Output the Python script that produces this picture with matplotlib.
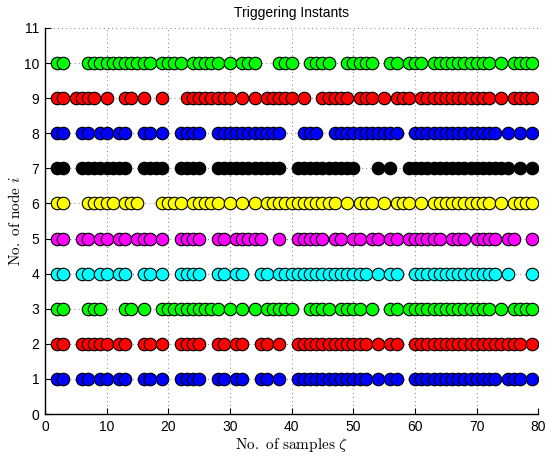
import matplotlib
matplotlib.use('Agg')
import matplotlib.pyplot as plt

# triggering instants per node (sample indices)
node1 = [2, 3, 6, 7, 9, 10, 12, 13, 16, 17, 19, 22, 23, 24, 25, 28, 29, 31, 32, 35, 36, 38,
         41, 42, 43, 44, 45, 46, 47, 48, 49, 50, 51, 52, 54, 56, 57,
         60, 61, 62, 63, 64, 65, 66, 67, 68, 69, 70, 71, 72, 73, 75, 76, 77, 79]
node2 = [2, 3, 6, 7, 8, 9, 10, 12, 13, 16, 17, 19, 22, 23, 24, 25, 28, 29, 31, 32, 35, 36, 38,
         41, 42, 43, 44, 45, 46, 47, 48, 49, 50, 51, 52, 54, 56, 57,
         60, 61, 62, 63, 64, 65, 66, 67, 68, 69, 70, 71, 72, 73, 74, 75, 76, 77, 79]
node3 = [2, 3, 7, 8, 9, 13, 14, 16, 19, 20, 21, 22, 23, 24, 25, 26, 27, 28, 30, 32, 34,
         36, 37, 38, 39, 40, 43, 44, 45, 46, 48, 49, 50, 51, 53, 56, 57,
         59, 60, 61, 62, 63, 64, 65, 66, 67, 68, 69, 70, 71, 72, 74, 76, 77, 78, 79]
node4 = [2, 3, 6, 7, 9, 10, 12, 13, 16, 17, 19, 22, 23, 24, 25, 28, 29, 31, 32, 35, 36,
         38, 39, 40, 41, 42, 43, 44, 45, 46, 47, 48, 49, 50, 51, 52, 54, 56, 57,
         60, 61, 62, 63, 64, 65, 66, 67, 68, 69, 70, 71, 72, 73, 75, 79]
node5 = [2, 3, 6, 7, 9, 10, 12, 13, 15, 16, 17, 19, 22, 23, 24, 25, 28, 29, 31, 32, 33, 34, 35,
         38, 41, 42, 43, 44, 45, 47, 48, 50, 51, 53, 54, 56, 57, 59, 60, 61, 62, 63, 64,
         66, 67, 68, 70, 71, 72, 73, 75, 76, 79]
node6 = [2, 3, 7, 8, 9, 10, 11, 13, 14, 15, 19, 20, 21, 22, 24, 25, 26, 27, 28, 30, 32, 34,
         36, 37, 38, 39, 40, 41, 42, 43, 44, 45, 46, 47, 49, 51, 52, 53, 55, 57, 58, 59, 61,
         63, 64, 65, 66, 67, 68, 69, 70, 71, 72, 74, 76, 77, 78, 79]
node7 = [2, 3, 6, 7, 8, 9, 10, 11, 12, 13, 16, 17, 18, 19, 22, 23, 24, 25,
         28, 29, 30, 31, 32, 33, 34, 35, 36, 37, 38, 41, 42, 43, 44, 45, 46, 47, 48, 49, 50,
         54, 56, 59, 60, 61, 62, 63, 64, 65, 66, 67, 68, 69, 70, 71, 72, 73, 74, 75, 77, 79]
node8 = [2, 3, 6, 7, 9, 10, 12, 13, 16, 17, 19, 22, 23, 24, 25,
         28, 29, 30, 31, 32, 33, 34, 35, 36, 37, 38, 42, 43, 44,
         47, 48, 49, 50, 51, 52, 53, 54, 55, 56, 57,
         60, 61, 62, 63, 64, 65, 66, 67, 68, 69, 70, 71, 72, 73, 75, 77, 79]
node9 = [2, 3, 5, 6, 7, 8, 10, 13, 14, 16, 19, 23, 24, 25, 26, 27, 28, 29, 30, 32, 34,
         36, 37, 38, 39, 40, 42, 45, 46, 47, 48, 49, 51, 52, 53, 55, 57, 58, 59, 61,
         62, 63, 64, 65, 66, 67, 68, 69, 70, 71, 72, 74, 76, 77, 78, 79]
node10 = [2, 3, 7, 8, 9, 10, 11, 12, 13, 14, 15, 16, 17, 19, 20, 21, 22, 24, 25, 26, 27, 28,
          30, 32, 33, 34, 38, 39, 40, 43, 44, 45, 46, 49, 50, 51, 52, 53, 56, 57, 59, 60, 61,
          63, 64, 65, 66, 67, 68, 69, 70, 71, 72, 74, 76, 77, 78, 79]

nodes = [node1, node2, node3, node4, node5, node6, node7, node8, node9, node10]
colors = ['#0000ff', '#ff0000', '#00ff00', '#00ffff', '#ff00ff',
          '#ffff00', '#000000', '#0000ff', '#ff0000', '#00ff00']

plt.rcParams['font.family'] = ['Liberation Sans', 'DejaVu Sans']
plt.rcParams['mathtext.fontset'] = 'cm'

fig = plt.figure(figsize=(5.5, 4.58), dpi=100)
ax = fig.add_axes([0.0818, 0.096, 0.897, 0.843])

for i, (samples, c) in enumerate(zip(nodes, colors)):
    ax.plot(samples, [i + 1] * len(samples), linestyle='none', marker='o',
            ms=9.0, mfc=c, mec='k', mew=0.8)

ax.set_xlim(0, 80)
ax.set_ylim(0, 11)
ax.set_xticks(range(0, 81, 10))
ax.set_yticks(range(0, 12))
ax.tick_params(direction='in', length=4, width=0.8, labelsize=10, pad=4)
ax.set_axisbelow(True)
ax.grid(True, linestyle=(0, (1, 4)), color='#555555', linewidth=0.6)
for s in ['top', 'right']:
    ax.spines[s].set_visible(False)
for s in ['left', 'bottom']:
    ax.spines[s].set_linewidth(1.0)

ax.set_title('Triggering Instants', fontsize=10, pad=8)
ax.set_xlabel(r'$\mathrm{No.\ of\ samples}\ \zeta$', fontsize=11, labelpad=2)
ax.set_ylabel(r'$\mathrm{No.\ of\ node}\ i$', fontsize=11, labelpad=1)

fig.savefig('out.png', dpi=100)
